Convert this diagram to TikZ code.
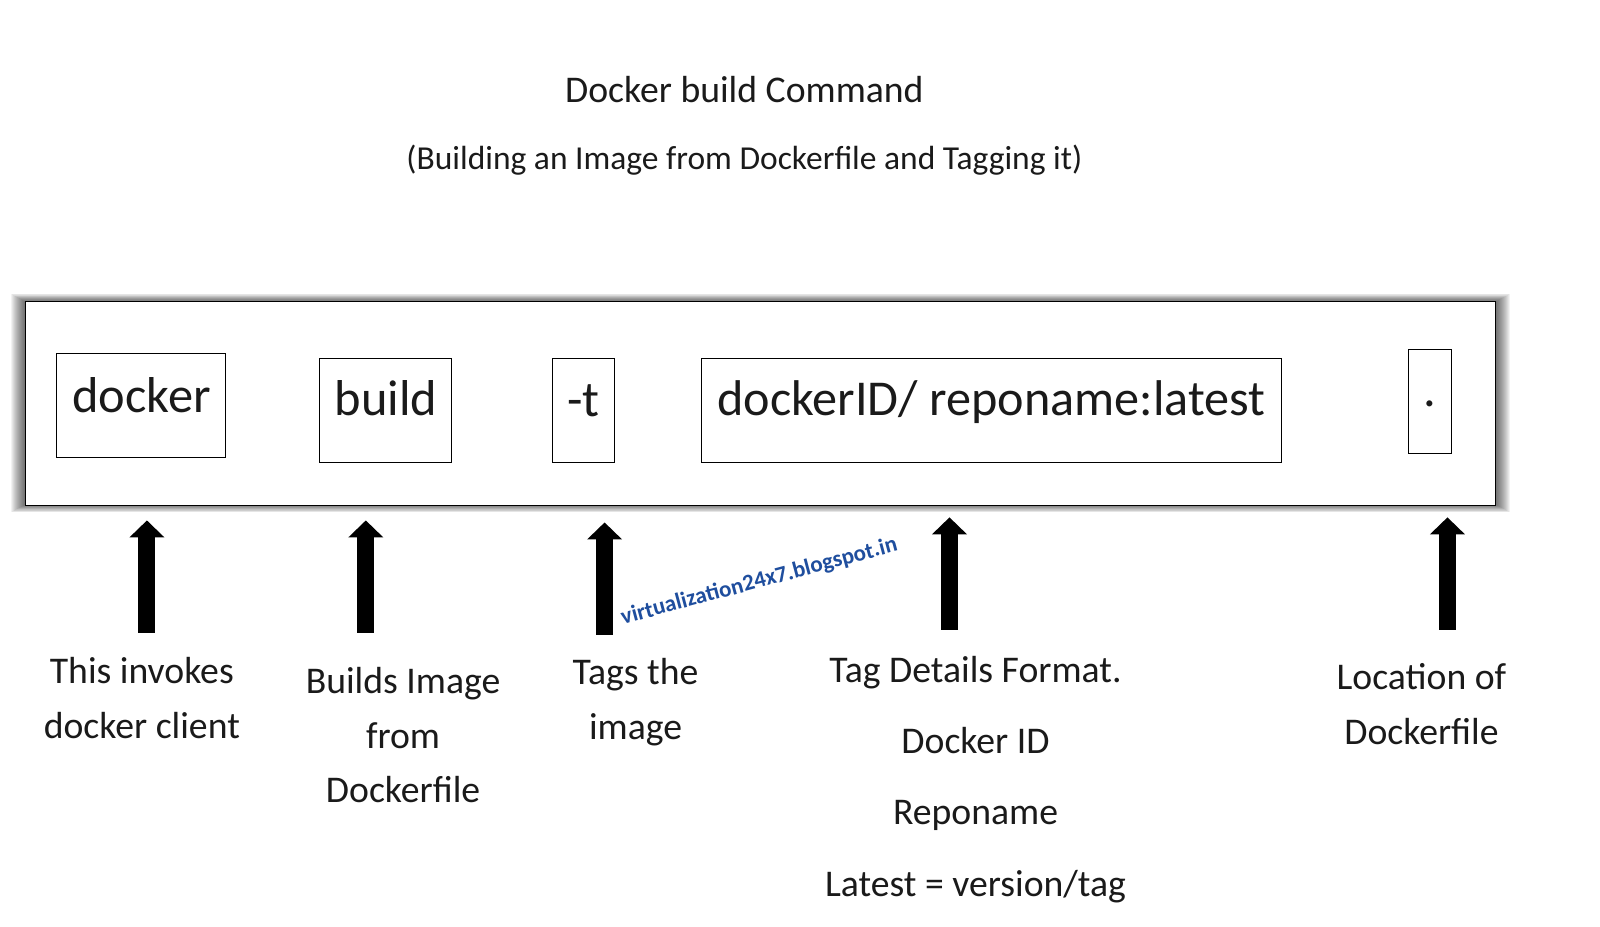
\documentclass[tikz,border=0pt]{standalone}
\usepackage{fontspec}
\setmainfont{Carlito}
\usetikzlibrary{arrows.meta}
\definecolor{txt}{HTML}{1A1A1A}
\definecolor{wm}{HTML}{1F4E9E}
\tikzset{
  px/.style={x=1.0204pt,y=-1.0204pt},
  cmd/.style={draw=black,line width=0.9pt,fill=white,inner sep=0pt,anchor=north west},
  cmdtxt/.style={text=txt,font=\fontsize{50.4}{50.4}\selectfont,inner sep=0pt},
  lab/.style={text=txt,font=\fontsize{37.7}{54.6}\selectfont,align=center,inner sep=0pt},
  up/.style={-{Triangle[length=17pt,width=34pt]},line width=17pt,black}
}
\begin{document}
\begin{tikzpicture}[px]
\useasboundingbox (0,0) rectangle (1568,908.4);
\fill[white] (0,0) rectangle (1568,908.4);
\node[lab] (t1) at (729.5,88) {Docker build Command};
\node[lab,font=\fontsize{33.5}{40}\selectfont] (t2) at (729.5,157) {(Building an Image from Dockerfile and Tagging it)};
\foreach \i in {0,...,13}
  \fill[black,opacity=0.05] ({11+\i*1.0},{288+\i*0.55}) rectangle ({1480-\i*1.0},{502-\i*0.55});
\node[draw=black,line width=1pt,fill=white,anchor=north west,minimum width=1440.5*1.0204pt,minimum height=199.5*1.0204pt,inner sep=0] (frame) at (24.5,295) {};
\node[cmd,minimum width=165.5*1.0204pt,minimum height=102*1.0204pt] (b1) at (55,346) {};
\node[cmdtxt] (b1t) at (138.7,387) {docker};
\node[cmd,minimum width=129*1.0204pt,minimum height=102*1.0204pt] (b2) at (313,351) {};
\node[cmdtxt] (b2t) at (378.2,390.5) {build};
\node[cmd,minimum width=61*1.0204pt,minimum height=102*1.0204pt] (b3) at (541,351) {};
\node[cmdtxt] (b3t) at (571.8,393) {-t};
\node[cmd,minimum width=568*1.0204pt,minimum height=102*1.0204pt] (b4) at (687,351) {};
\node[cmdtxt,font=\fontsize{50.2}{50.4}\selectfont] (b4t) at (971.5,394) {dockerID/ reponame:latest};
\node[cmd,minimum width=42*1.0204pt,minimum height=102*1.0204pt] (b5) at (1380,342) {};
\node[cmdtxt] (b5t) at (1401.5,396) {.};
\coordinate (a1s) at (144,620); \coordinate (a1e) at (144,510);
\coordinate (a2s) at (358.5,620); \coordinate (a2e) at (358.5,510);
\coordinate (a3s) at (592.5,622); \coordinate (a3e) at (592.5,512);
\coordinate (a4s) at (930.5,617); \coordinate (a4e) at (930.5,507);
\coordinate (a5s) at (1418.5,617); \coordinate (a5e) at (1418.5,507);
\foreach \n in {1,...,5} \draw[up] (a\n s) -- (a\n e);
\node[lab] (l1) at (139,684) {This invokes\\docker client};
\node[lab] (l2) at (395,720.5) {Builds Image\\from\\Dockerfile};
\node[lab] (l3) at (622.8,688) {Tags the\\image};
\node[lab] (l4a) at (956,659) {Tag Details Format.};
\node[lab] (l4b) at (956,726) {Docker ID};
\node[lab] (l4c) at (956,799) {Reponame};
\node[lab] (l4d) at (956,869) {Latest = version/tag};
\node[lab] (l5) at (1393,690) {Location of\\Dockerfile};
\node[text=wm,font=\bfseries\fontsize{23}{24}\selectfont,rotate=15,inner sep=0] (wm) at (744,570) {virtualization24x7.blogspot.in};
\end{tikzpicture}
\end{document}
